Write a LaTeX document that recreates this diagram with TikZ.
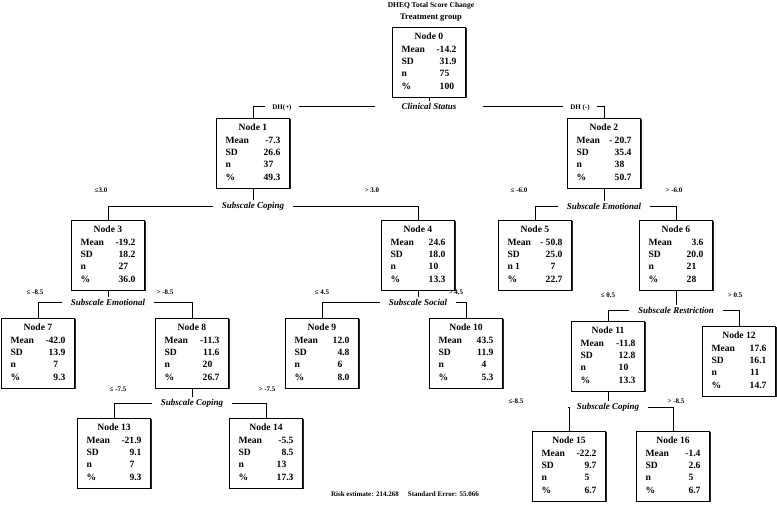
\documentclass[tikz,border=0pt]{standalone}
\usepackage{fontspec}
\setmainfont{Liberation Serif}
\usepackage{array}
\usetikzlibrary{shadows}
\renewcommand\arraystretch{1.04}
\newcommand\ph{\phantom{.0}}
\newcommand\nodetab[6]{\begin{tabular}{@{}p{30pt}@{}>{\raggedleft\arraybackslash}p{25pt}@{}}\multicolumn{2}{c}{Node #1}\\Mean&#2\\SD&#3\\#4&#5\\\%&#6\end{tabular}}
\begin{document}
\begin{tikzpicture}[x=1pt,y=-1pt,
  box/.style={draw, line width=0.8pt, fill=white, minimum width=73pt, minimum height=70pt, inner sep=0pt,
    font=\fontsize{9.6}{12}\selectfont\bfseries,
    drop shadow={shadow xshift=1.1pt, shadow yshift=-1.1pt, fill=black, opacity=0.85}},
  split/.style={font=\fontsize{9}{10}\selectfont\bfseries\itshape, inner xsep=9pt, inner ysep=1.5pt},
  lab/.style={font=\fontsize{7}{8}\selectfont\bfseries, inner sep=1pt},
  conn/.style={line width=0.9pt}]
\useasboundingbox (0,0) rectangle (777,510);

\node[font=\fontsize{7.5}{9}\selectfont\bfseries] (title) at (431,6) {DHEQ Total Score Change};
\node[font=\fontsize{8.5}{10}\selectfont\bfseries] (grp) at (431,18) {Treatment group};

% nodes
\node[box] (n0) at (429,62) {\nodetab{0}{-14.2}{31.9}{n}{75\ph}{100\phantom{.}}};
\node[box] (n1) at (253,153) {\nodetab{1}{-7.3}{26.6}{n}{37\ph}{49.3}};
\node[box] (n2) at (604,153) {\nodetab{2}{- 20.7}{35.4}{n}{38\ph}{50.7}};
\node[box] (n3) at (108,255) {\nodetab{3}{-19.2}{18.2}{n}{27\ph}{36.0}};
\node[box] (n4) at (418,255) {\nodetab{4}{24.6}{18.0}{n}{10\ph}{13.3}};
\node[box] (n5) at (535,255) {\nodetab{5}{- 50.8}{25.0}{n 1}{7\ph}{22.7}};
\node[box] (n6) at (676,255) {\nodetab{6}{3.6}{20.0}{n}{21\ph}{28\ph}};
\node[box] (n7) at (38,353) {\nodetab{7}{-42.0}{13.9}{n}{7\ph}{9.3}};
\node[box] (n8) at (192,353) {\nodetab{8}{-11.3}{11.6}{n}{20\ph}{26.7}};
\node[box] (n9) at (322,353) {\nodetab{9}{12.0}{4.8}{n}{6\ph}{8.0}};
\node[box] (n10) at (466,353) {\nodetab{10}{43.5}{11.9}{n}{4\ph}{5.3}};
\node[box] (n11) at (608,356) {\nodetab{11}{-11.8}{12.8}{n}{10\ph}{13.3}};
\node[box] (n12) at (739,361) {\nodetab{12}{17.6}{16.1}{n}{11\ph}{14.7}};
\node[box] (n13) at (114,453) {\nodetab{13}{-21.9}{9.1}{n}{7\ph}{9.3}};
\node[box] (n14) at (266,453) {\nodetab{14}{-5.5}{8.5}{n}{13\ph}{17.3}};
\node[box] (n15) at (569,466) {\nodetab{15}{-22.2}{9.7}{n}{5\ph}{6.7}};
\node[box] (n16) at (673,466) {\nodetab{16}{-1.4}{2.6}{n}{5\ph}{6.7}};

% split 0
\node[split, inner xsep=26pt] (s0) at (429,106) {Clinical Status};
\node[lab, inner xsep=7pt] (d1) at (282,108) {DH(+)};
\node[lab, inner xsep=7pt] (d2) at (580,108) {DH (-)};
\draw[conn] (n0.south) -- (s0.north);
\draw[conn] (s0.west) -- (d1.east |- s0.west);
\draw[conn] (d1.west |- s0.west) -| (n1.north);
\draw[conn] (s0.east) -- (d2.west |- s0.east);
\draw[conn] (d2.east |- s0.east) -| (n2.north);

% split 1
\node[split] (s1) at (253,206) {Subscale Coping};
\node[lab] (l1a) at (101,190) {≤3.0};
\node[lab] (l1b) at (372,190) {> 3.0};
\draw[conn] (n1.south) -- (s1.north);
\draw[conn] (s1.west) -| (n3.north);
\draw[conn] (s1.east) -| (n4.north);

% split 2
\node[split] (s2) at (604,206) {Subscale Emotional};
\node[lab] (l2a) at (519,190) {≤ -6.0};
\node[lab] (l2b) at (674,190) {> -6.0};
\draw[conn] (n2.south) -- (s2.north);
\draw[conn] (s2.west) -| (n5.north);
\draw[conn] (s2.east) -| (n6.north);

% split 3
\node[split] (s3) at (108,302) {Subscale Emotional};
\node[lab] (l3a) at (35,292) {≤ -8.5};
\node[lab] (l3b) at (165,292) {> -8.5};
\draw[conn] (n3.south) -- (s3.north);
\draw[conn] (s3.west) -| (n7.north);
\draw[conn] (s3.east) -| (n8.north);

% split 4
\node[split] (s4) at (418,302) {Subscale Social};
\node[lab] (l4a) at (322,292) {≤ 4.5};
\node[lab] (l4b) at (456,292) {> 4.5};
\draw[conn] (n4.south) -- (s4.north);
\draw[conn] (s4.west) -| (n9.north);
\draw[conn] (s4.east) -| (n10.north);

% split 6
\node[split] (s6) at (676,310) {Subscale Restriction};
\node[lab] (l6a) at (608,295) {≤ 0.5};
\node[lab] (l6b) at (735,295) {> 0.5};
\draw[conn] (n6.south) -- (s6.north);
\draw[conn] (s6.west) -| (n11.north);
\draw[conn] (s6.east) -| (n12.north);

% split 8
\node[split] (s8) at (192,403) {Subscale Coping};
\node[lab] (l8a) at (118,389) {≤ -7.5};
\node[lab] (l8b) at (267,389) {> -7.5};
\draw[conn] (n8.south) -- (s8.north);
\draw[conn] (s8.west) -| (n13.north);
\draw[conn] (s8.east) -| (n14.north);

% split 11
\node[split] (s11) at (608,407) {Subscale Coping};
\node[lab] (l11a) at (516,401) {≤-8.5};
\node[lab] (l11b) at (676,401) {> -8.5};
\draw[conn] (n11.south) -- (s11.north);
\draw[conn] (s11.west) -| (n15.north);
\draw[conn] (s11.east) -| (n16.north);

\node[font=\fontsize{7}{8}\selectfont\bfseries] (risk) at (405,494) {Risk estimate: 214.268\hspace{1.3em}Standard Error: 55.066};
\end{tikzpicture}
\end{document}
